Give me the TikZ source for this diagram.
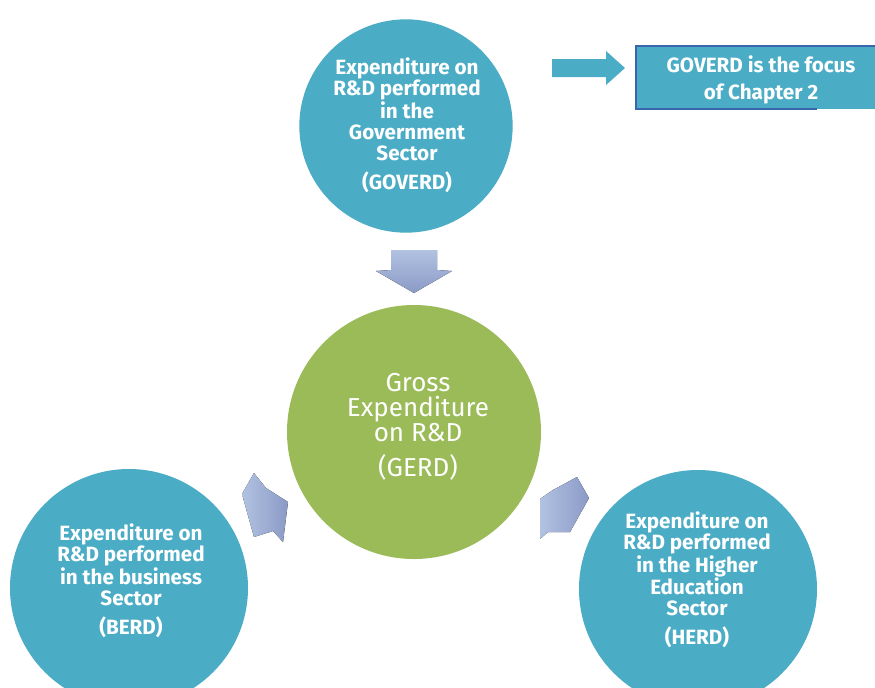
\documentclass[tikz,border=0pt]{standalone}
\usepackage{fontspec}
\setmainfont{Fira Sans}
\begin{document}
\begin{tikzpicture}[x=0.75pt,y=-0.75pt,
  sector/.style={circle,fill=teal1,draw=none,inner sep=0pt},
  gross/.style={circle,fill=green1,draw=none,inner sep=0pt},
  sectortext/.style={text=white,align=center,font=\fontsize{15.5}{15.75}\selectfont\bfseries},
  grosstext/.style={text=white,align=center,font=\fontsize{19.5}{18.5}\selectfont},
  focustext/.style={text=white,align=center,font=\fontsize{15.5}{20}\selectfont\bfseries},
  frame/.style={draw=frameblue,line width=2pt},
  flowarrow/.style={top color=arrowlight,bottom color=arrowdark,draw=none},
  sidearrow/.style={left color=arrowlight,right color=arrowdark,draw=none}]
\definecolor{teal1}{HTML}{4BACC6}
\definecolor{green1}{HTML}{9BBB59}
\definecolor{frameblue}{HTML}{3A66AE}
\definecolor{arrowlight}{HTML}{B2C2E2}
\definecolor{arrowdark}{HTML}{8A9AC6}
\useasboundingbox (0,0) rectangle (875,687);
\fill[white] (0,0) rectangle (875,687);

% sector circles
\node[sector,minimum size=160pt] (gov) at (406,126) {};
\node[gross,minimum size=190.5pt] (gerd) at (414,432) {};
\node[sector,minimum size=178.5pt] (berd) at (129,588) {};
\node[sector,minimum size=178.5pt] (herd) at (698,589) {};

% labels
\node[sectortext] (govtext) at (407,125) {Expenditure on\\R\&D performed\\in the\\Government\\Sector\\[6pt](GOVERD)};
\node[grosstext] (gerdtext) at (418,427) {Gross\\Expenditure\\on R\&D\\[8pt](GERD)};
\node[sectortext] (berdtext) at (131,581) {Expenditure on\\R\&D performed\\in the business\\Sector\\[6pt](BERD)};
\node[sectortext] (herdtext) at (697,580) {Expenditure on\\R\&D performed\\in the Higher\\Education\\Sector\\[6pt](HERD)};

% note box, running off the right edge; its lower rule stops short
\fill[teal1] (636,46) rectangle (884,109);
\draw[frame] (817,109) -- (636,109) -- (636,46) -- (884,46);
\node[focustext] (focus) at (761,80) {GOVERD is the focus\\of Chapter 2};

% block arrows
\fill[teal1] (552,59) -- (606,59) -- (606,51) -- (625,68) -- (606,85) -- (606,77) -- (552,77) -- cycle;
\fill[flowarrow] (391,250) -- (437,250) -- (437,270) -- (452,271) -- (414,293) -- (376,271) -- (391,270) -- cycle;
\fill[sidearrow] (254,473) -- (266,488) -- (288,502) -- (283,542) -- (273,531) -- (254,537) -- (242,494) -- cycle;
\fill[sidearrow] (577,477) -- (589,498) -- (570,532) -- (548,532) -- (540,539) -- (540,499) -- (553,490) -- cycle;
\end{tikzpicture}
\end{document}
